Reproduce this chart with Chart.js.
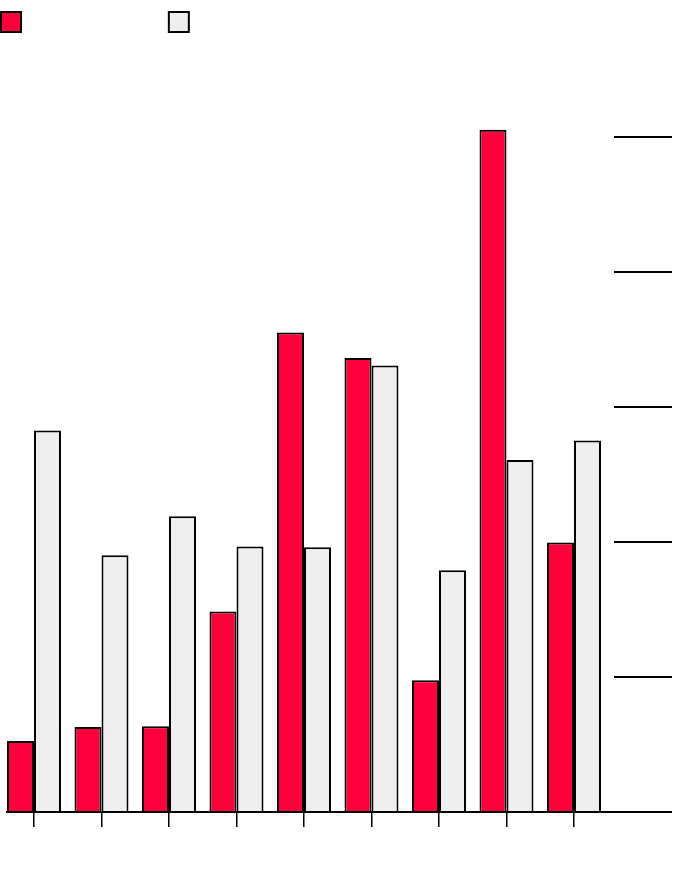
<!DOCTYPE html>
<html>
<head>
<meta charset="utf-8">
<script src="https://cdn.jsdelivr.net/npm/chart.js@4/dist/chart.umd.min.js"></script>
<style>
  html, body { margin: 0; padding: 0; background: #ffffff; }
  #wrap { width: 690px; height: 880px; position: relative; }
</style>
</head>
<body>
<div id="wrap"><canvas id="c"></canvas></div>
<script>
// ---- data ----
const categories = [0, 1, 2, 3, 4, 5, 6, 7, 8];
const seriesNames = ['Current period', 'Previous period'];
const currentValues = [10.5, 12.6, 12.7, 29.7, 71.0, 67.2, 19.5, 101.0, 39.9];
const previousValues = [56.5, 38.0, 43.8, 39.3, 39.2, 66.1, 35.8, 52.1, 55.0];
const yTicks = [0, 20, 40, 60, 80, 100];

Chart.defaults.font.family = "'Liberation Sans', Arial, sans-serif";

new Chart(document.getElementById('c'), {
  type: 'bar',
  data: {
    labels: categories,
    datasets: [
      {
        label: seriesNames[0],
        data: currentValues,
        backgroundColor: '#ff003b',
        borderColor: '#000000',
        borderWidth: 2,
        categoryPercentage: 0.8,
        barPercentage: 1.0
      },
      {
        label: seriesNames[1],
        data: previousValues,
        backgroundColor: '#eeeeee',
        borderColor: '#000000',
        borderWidth: 2,
        categoryPercentage: 0.8,
        barPercentage: 1.0
      }
    ]
  },
  options: {
    responsive: true,
    maintainAspectRatio: false,
    animation: false,
    layout: { padding: { left: -9, right: 18, top: 2, bottom: 53 } },
    plugins: {
      tooltip: { enabled: false },
      legend: {
        position: 'top',
        align: 'start',
        labels: {
          boxWidth: 20,
          boxHeight: 20,
          padding: 10,
          color: 'rgba(0,0,0,0)',
          font: { size: 20 }
        }
      }
    },
    scales: {
      x: {
        type: 'linear',
        min: -0.4,
        max: 8.5926,
        offset: false,
        grid: {
          display: true,
          offset: false,
          drawOnChartArea: false,
          drawTicks: true,
          tickLength: 15,
          color: '#000000',
          lineWidth: 1.5
        },
        border: { display: true, color: '#000000', width: 2 },
        ticks: {
          display: false,
          stepSize: 1,
          includeBounds: false
        },
        afterBuildTicks: (axis) => {
          axis.ticks = categories.map(v => ({ value: v }));
        }
      },
      y: {
        type: 'linear',
        position: 'right',
        min: 0,
        max: 114,
        grid: {
          display: true,
          drawOnChartArea: false,
          drawTicks: true,
          tickLength: 58,
          color: '#000000',
          lineWidth: 2
        },
        border: { display: false },
        ticks: { display: false, stepSize: 20, includeBounds: false },
        afterBuildTicks: (axis) => {
          axis.ticks = yTicks.map(v => ({ value: v }));
        }
      },
      yPad: {
        type: 'linear',
        position: 'left',
        display: true,
        grid: {
          display: true,
          drawOnChartArea: false,
          drawTicks: true,
          tickLength: 16,
          color: 'rgba(0,0,0,0)'
        },
        border: { display: false },
        ticks: { display: false }
      }
    }
  }
});
</script>
</body>
</html>
